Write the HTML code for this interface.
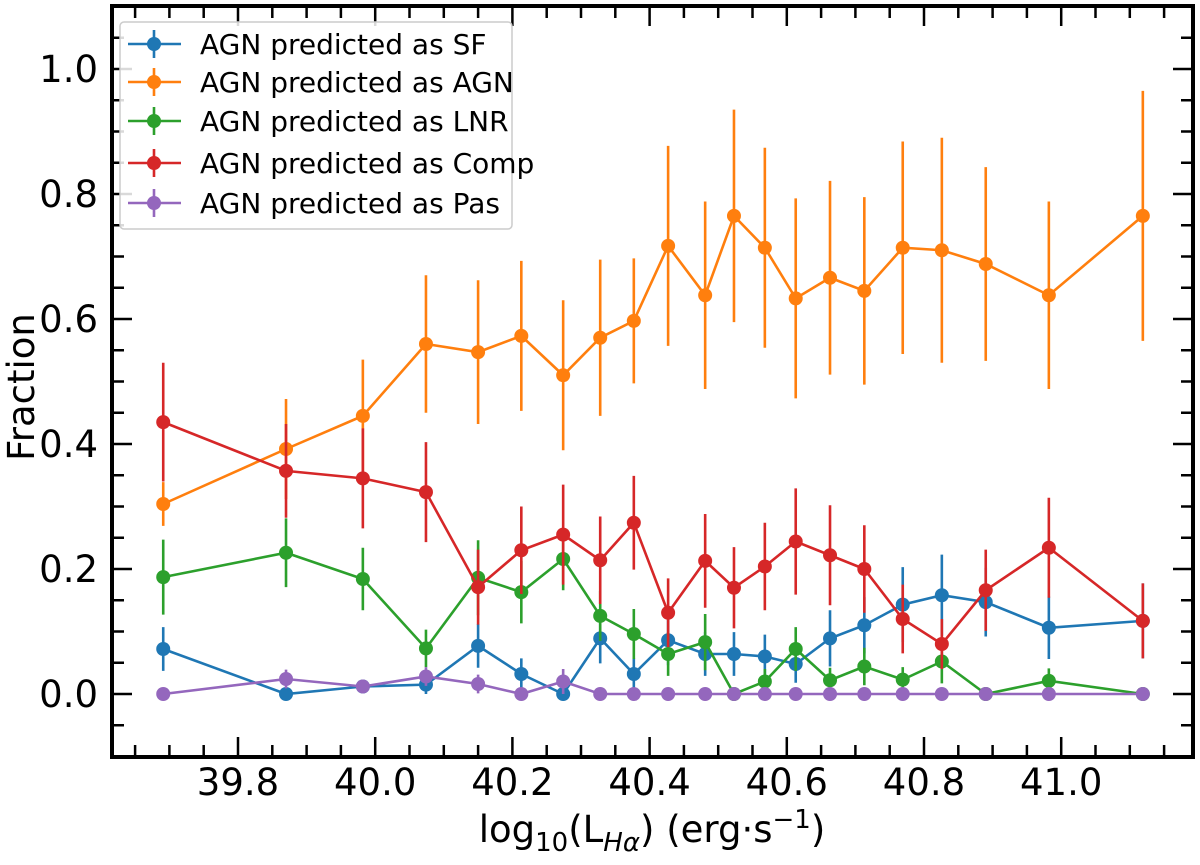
<!DOCTYPE html>
<html><head><meta charset="utf-8"><style>
html,body{margin:0;padding:0;background:#fff;}
svg text{font-family:"DejaVu Sans","Liberation Sans",sans-serif;}
</style></head><body>
<svg id="chart" width="1200" height="860" viewBox="0 0 1200 860" xmlns="http://www.w3.org/2000/svg">
<g id="marks"></g>
<g id="axes"></g>
<text x="34" y="387" font-size="37" text-anchor="middle" transform="rotate(-90 34 387)">Fraction</text>
<text x="652" y="842" font-size="37" text-anchor="middle">log<tspan font-size="26" dy="9">10</tspan><tspan dy="-9">(L</tspan><tspan font-size="26" font-style="italic" dy="9">Hα</tspan><tspan dy="-9">) (erg·s</tspan><tspan font-size="26" dy="-14">−1</tspan><tspan dy="14">)</tspan></text>
<g id="legend"></g>
</svg>
<script>
const xVals=[39.691,39.870,39.982,40.074,40.150,40.213,40.274,40.328,40.377,40.427,40.481,40.523,40.568,40.613,40.663,40.713,40.769,40.826,40.890,40.982,41.119];
const sfVals=[0.072,0.0,0.012,0.015,0.077,0.032,0.0,0.089,0.032,0.086,0.064,0.064,0.060,0.048,0.089,0.110,0.143,0.158,0.147,0.106,0.117];
const sfErr=[0.035,0.0,0.01,0.015,0.035,0.025,0.0,0.04,0.025,0.04,0.035,0.035,0.035,0.03,0.045,0.045,0.06,0.065,0.055,0.05,0.06];
const agnVals=[0.304,0.392,0.445,0.560,0.547,0.573,0.510,0.570,0.597,0.717,0.638,0.765,0.714,0.633,0.666,0.645,0.714,0.710,0.688,0.638,0.765];
const agnErr=[0.035,0.08,0.09,0.11,0.115,0.12,0.12,0.125,0.1,0.16,0.15,0.17,0.16,0.16,0.155,0.15,0.17,0.18,0.155,0.15,0.2];
const lnrVals=[0.187,0.226,0.184,0.073,0.186,0.163,0.216,0.125,0.096,0.064,0.083,0.0,0.020,0.072,0.022,0.044,0.023,0.052,0.0,0.021,0.0];
const lnrErr=[0.06,0.055,0.05,0.03,0.06,0.05,0.05,0.04,0.04,0.035,0.045,0.0,0.02,0.035,0.02,0.03,0.02,0.035,0.0,0.02,0.0];
const compVals=[0.435,0.357,0.345,0.323,0.171,0.230,0.255,0.214,0.274,0.130,0.213,0.170,0.204,0.244,0.222,0.200,0.120,0.080,0.166,0.234,0.117];
const compErr=[0.095,0.075,0.08,0.08,0.06,0.07,0.08,0.07,0.075,0.055,0.075,0.065,0.07,0.085,0.08,0.07,0.055,0.04,0.065,0.08,0.06];
const pasVals=[0,0.024,0.012,0.028,0.016,0,0.02,0,0,0,0,0,0,0,0,0,0,0,0,0,0];
const pasErr=[0,0.015,0.01,0.015,0.015,0,0.02,0,0,0,0,0,0,0,0,0,0,0,0,0,0];
const seriesNames=["AGN predicted as SF","AGN predicted as AGN","AGN predicted as LNR","AGN predicted as Comp","AGN predicted as Pas"];
const xTicks=[39.8,40.0,40.2,40.4,40.6,40.8,41.0];
const yTicks=[0.0,0.2,0.4,0.6,0.8,1.0];

const L=112,R=1193,T=6,B=757;
const X0=39.8,XPX=238,XS=686;
function sx(v){return XPX+(v-X0)*XS;}
function sy(v){return 694-v*625;}
const NS="http://www.w3.org/2000/svg";
function mk(tag,attrs,parent){const e=document.createElementNS(NS,tag);for(const k in attrs)e.setAttribute(k,attrs[k]);parent.appendChild(e);return e;}
const marks=document.getElementById('marks');
const colors=["#1f77b4","#ff7f0e","#2ca02c","#d62728","#9467bd"];
const vals=[sfVals,agnVals,lnrVals,compVals,pasVals];
const errs=[sfErr,agnErr,lnrErr,compErr,pasErr];
const keys=["sf","agn","lnr","comp","pas"];
for(let s=0;s<5;s++){
  const g=mk('g',{},marks);
  
  
  for(let i=0;i<xVals.length;i++){
    const eb=mk('line',{x1:sx(xVals[i]),x2:sx(xVals[i]),y1:sy(vals[s][i]-errs[s][i]),y2:sy(vals[s][i]+errs[s][i]),stroke:colors[s],'stroke-width':2.6},g);
    
    
  }
  const pl=mk('polyline',{points:xVals.map((x,i)=>sx(x)+','+sy(vals[s][i])).join(' '),fill:'none',stroke:colors[s],'stroke-width':2.6},g);
  
  
  for(let i=0;i<xVals.length;i++){
    const c=mk('circle',{cx:sx(xVals[i]),cy:sy(vals[s][i]),r:7,fill:colors[s]},g);
    
    
  }
}
const axes=document.getElementById('axes');
for(let v=39.65;v<41.2;v+=0.05){
  const px=sx(v); if(px<=L+2||px>=R-2)continue;
  const major=xTicks.some(t=>Math.abs(t-v)<1e-6);
  const len=major?20:12;
  mk('line',{x1:px,x2:px,y1:B,y2:B-len,stroke:'#000','stroke-width':2.5},axes);
  mk('line',{x1:px,x2:px,y1:T,y2:T+len,stroke:'#000','stroke-width':2.5},axes);
}
for(let v=-0.05;v<1.1;v+=0.05){
  const py=sy(v); if(py<=T+2||py>=B-2)continue;
  const major=yTicks.some(t=>Math.abs(t-v)<1e-6);
  const len=major?20:12;
  mk('line',{x1:L,x2:L+len,y1:py,y2:py,stroke:'#000','stroke-width':2.5},axes);
  mk('line',{x1:R,x2:R-len,y1:py,y2:py,stroke:'#000','stroke-width':2.5},axes);
}
xTicks.forEach(t=>{
  const tx=mk('text',{x:sx(t),y:795,'font-size':37,'text-anchor':'middle'},axes);
  tx.textContent=t.toFixed(1);
  
  
});
yTicks.forEach(t=>{
  const tx=mk('text',{x:98,y:sy(t)+13,'font-size':37,'text-anchor':'end'},axes);
  tx.textContent=t.toFixed(1);
  
  
});
const frame=mk('rect',{x:L,y:T,width:R-L,height:B-T,fill:'none',stroke:'#000','stroke-width':4},axes);


const lg=document.getElementById('legend');
mk('rect',{x:120,y:22,width:392,height:207,rx:4,fill:'#fff','fill-opacity':0.85,stroke:'#ccc','stroke-width':1.5},lg);
const ly=[44,82,121,163,203];
for(let s=0;s<5;s++){
  const e=mk('g',{},lg);
  
  
  mk('line',{x1:128,x2:181,y1:ly[s],y2:ly[s],stroke:colors[s],'stroke-width':2.6},e);
  mk('line',{x1:154,x2:154,y1:ly[s]-14,y2:ly[s]+14,stroke:colors[s],'stroke-width':2.6},e);
  mk('circle',{cx:154,cy:ly[s],r:7,fill:colors[s]},e);
  const t=mk('text',{x:200,y:ly[s]+10,'font-size':28},e);
  t.textContent=seriesNames[s];
}
</script>
</body></html>
